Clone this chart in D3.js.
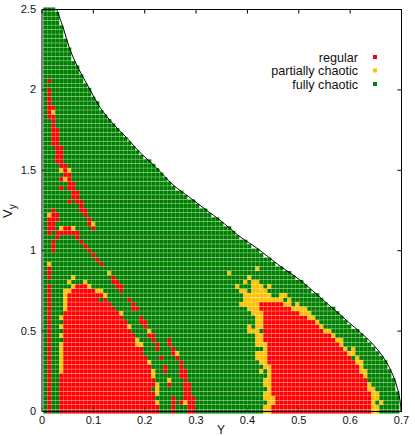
<!DOCTYPE html>
<html>
<head>
<meta charset="utf-8">
<script src="https://cdn.jsdelivr.net/npm/d3@7"></script>
<style>
  html, body { margin: 0; padding: 0; background: #fff; }
  svg { display: block; }
  text { font-family: "Liberation Sans", Arial, sans-serif; fill: #111; }
</style>
</head>
<body>
<div id="chart"></div>
<script>
// Tick labels
const yTicks = [0, 0.1, 0.2, 0.3, 0.4, 0.5, 0.6, 0.7];
const vyTicks = [0, 0.5, 1, 1.5, 2, 2.5];

// Legend
const classNames = ["regular", "partially chaotic", "fully chaotic"];

// Grid spacing of the scan
const yFirst = 0.0064, yStep = 0.00779, vyStep = 2.5 / 90;

// Last scanned column in each row, row 0 is Vy = 0
const rowLastCol = [
  88, 88, 88, 88, 88, 87, 87, 87, 86, 86, 85, 85, 84, 83, 82, 81, 80, 79, 78, 76,
  75, 74, 73, 72, 70, 69, 68, 66, 65, 64, 62, 61, 59, 57, 56, 54, 53, 51, 50, 48,
  47, 46, 44, 43, 41, 40, 38, 37, 35, 34, 32, 31, 30, 29, 28, 27, 26, 24, 23, 22,
  21, 20, 19, 18, 17, 16, 15, 14, 13, 13, 12, 11, 11, 10, 9, 9, 8, 8, 7, 6,
  6, 6, 5, 5, 4, 4, 4, 3, 3, 3, 2
];

// Regular cells per row as [first column, last column] runs
const regularRuns = [
  [[1,1],[4,28],[32,32],[36,37],[57,81]],
  [[1,1],[4,28],[32,32],[36,37],[57,81]],
  [[1,1],[4,27],[32,32],[34,34],[36,37],[58,81]],
  [[1,1],[4,27],[32,32],[35,37],[58,81]],
  [[1,1],[4,27],[35,36],[57,81]],
  [[1,1],[4,26],[35,36],[57,80]],
  [[1,1],[4,27],[31,31],[35,36],[57,80]],
  [[1,1],[4,27],[35,35],[57,80]],
  [[1,1],[4,26],[34,35],[57,79]],
  [[1,1],[5,26],[30,30],[34,35],[57,78]],
  [[1,1],[5,26],[30,30],[34,34],[57,78]],
  [[1,1],[5,25],[34,34],[56,77]],
  [[1,1],[5,25],[29,29],[33,33],[56,76]],
  [[1,1],[5,24],[32,32],[56,75]],
  [[1,1],[5,24],[28,28],[32,32],[56,74]],
  [[1,1],[5,22],[28,28],[31,31],[56,73]],
  [[1,1],[5,22],[27,27],[31,31],[55,72]],
  [[1,1],[5,22],[26,27],[55,71]],
  [[1,1],[5,21],[55,69]],
  [[1,1],[5,20],[25,25],[55,68]],
  [[1,1],[5,20],[24,25],[55,67]],
  [[1,1],[5,19],[24,24],[55,65]],
  [[1,1],[5,18],[55,63]],
  [[1,1],[6,17],[22,23],[54,61]],
  [[1,1],[6,16],[22,22],[54,59]],
  [[1,1],[6,13],[15,15],[21,21]],
  [[1,1],[6,14]],
  [[1,1],[7,12],[19,19]],
  [[1,1],[8,10],[18,19]],
  [[17,18]],
  [[1,1],[17,17]],
  [[1,1]],
  [[1,1]],
  [[14,14]],
  [[13,13]],
  [[12,12]],
  [[2,2],[11,11]],
  [[2,2],[10,10]],
  [[2,2],[9,9]],
  [[3,3],[8,8]],
  [[1,1],[3,8]],
  [[1,2],[5,6],[12,12]],
  [[1,2],[11,11]],
  [[1,3],[11,11]],
  [[2,3],[10,10]],
  [[2,2],[9,10]],
  [[9,9]],
  [[6,6],[8,9]],
  [[7,8]],
  [[7,8]],
  [[4,4],[6,7]],
  [[6,7]],
  [[4,4],[6,6]],
  [[5,6]],
  [[5,5]],
  [[4,5]],
  [[3,4]],
  [[3,4]],
  [[3,4]],
  [[3,4]],
  [[2,3]],
  [[2,3]],
  [[2,3]],
  [[2,3]],
  [[2,2]],
  [[2,2]],
  [[1,2]],
  [[1,1]],
  [[1,2]],
  [[1,1]],
  [[1,1]],
  [[1,1]],
  [[1,1]],
  [],
  [[1,1]]
];

// Partially chaotic cells per row, as column numbers
const partialCols = [
  [55,56,82,83],
  [55,56,82,83],
  [28,35,56,57,82,84],
  [55,56,57,82,83],
  [28,55,56,82,83],
  [28,56,81,82],
  [28,55,56,81],
  [31,55,56],
  [27,56,80],
  [4,27,54,56,79,80],
  [4,55,56,79],
  [4,26,54,55,78,79],
  [4,53,54,55,78],
  [4,33,53,54,55,76,77],
  [4,55,75,77],
  [4,23,24,53,54,55,74],
  [23,53,54,73,74],
  [4,53,54,72],
  [26,51,52,53,70,71],
  [4,21,51,53,54,69],
  [53,54,68],
  [4,53,54,66,67],
  [19,52,53,54,64,65,66],
  [5,51,52,53,62,63,64,65],
  [5,49,50,51,52,53,60,61,63],
  [5,50,51,52,53,54,55,56,57,58,59,61],
  [5,15,50,51,52,53,54,55,56,59,60],
  [5,6,13,14,49,50,52,53,54,55],
  [7,11,48,52,53,54,56],
  [6,10,50,52,53],
  [7,51],
  [16,46],
  [53],
  [1],
  [], [], [], [], [], [],
  [],
  [4,7],
  [12],
  [],
  [1],
  [], [], [], [], [], [], [],
  [5],
  [],
  [4,6],
  [], [], [], [], [], [], [], [], [], [], [], [],
  [2]
];

// Outer edge of the allowed region
const edgeY = [0.0286, 0.0415, 0.0545, 0.0707, 0.092, 0.113, 0.138, 0.1655, 0.191, 0.223, 0.255, 0.288, 0.321,
  0.3465, 0.3855, 0.418, 0.4634, 0.502, 0.551, 0.596, 0.642, 0.668, 0.687, 0.697, 0.699];
const edgeVy = [2.5, 2.385, 2.25, 2.135, 2.01, 1.89, 1.79, 1.7, 1.61, 1.515, 1.41, 1.33, 1.25,
  1.19, 1.087, 1.017, 0.905, 0.818, 0.683, 0.558, 0.426, 0.32, 0.196, 0.0715, 0];

const WIDTH = 415, HEIGHT = 436;
const LEFT = 42, RIGHT = 401.5, TOP = 9.5, BOTTOM = 411.5;

const color = d3.scaleOrdinal().domain(classNames).range(["#ff0000", "#ffc000", "#008000"]);
const x = d3.scaleLinear().domain([0, 0.7]).range([LEFT, RIGHT]);
const y = d3.scaleLinear().domain([0, 2.5]).range([BOTTOM, TOP]);

const svg = d3.select("#chart").append("svg")
  .attr("width", WIDTH)
  .attr("height", HEIGHT);

// Y ticks sit under the cells
svg.append("g")
  .attr("transform", `translate(${LEFT},0)`)
  .call(d3.axisLeft(y).tickValues(vyTicks).tickFormat(d => d).tickSizeInner(-4).tickSizeOuter(0).tickPadding(6).offset(0))
  .call(g => g.selectAll("text").style("font-size", "11px"));

// Work out the class of every cell
const cells = [];
rowLastCol.forEach((last, row) => {
  const runs = regularRuns[row] || [];
  const partial = partialCols[row] || [];
  d3.range(last + 1).forEach(col => {
    let cls = "fully chaotic";
    if (runs.some(r => col >= r[0] && col <= r[1])) cls = "regular";
    if (partial.includes(col)) cls = "partially chaotic";
    cells.push({ Y: yFirst + col * yStep, Vy: row * vyStep, cls });
  });
});

const cellW = 3.96, cellH = 4.1;

svg.append("g").selectAll("rect")
  .data(cells)
  .join("rect")
  .attr("x", d => x(d.Y) - cellW / 2)
  .attr("y", d => y(d.Vy) - cellH / 2)
  .attr("width", cellW)
  .attr("height", cellH)
  .attr("fill", d => color(d.cls));

// Edge of the region
const edgeLine = d3.line()
  .x((d, i) => x(edgeY[i]))
  .y(d => y(d))
  .curve(d3.curveCatmullRom);

svg.append("path")
  .datum(edgeVy)
  .attr("d", edgeLine)
  .attr("fill", "none")
  .attr("stroke", "#000")
  .attr("stroke-width", 1);

// Frame and the other axes
svg.append("g")
  .attr("transform", `translate(0,${BOTTOM})`)
  .call(d3.axisBottom(x).tickValues(yTicks).tickFormat(d => d).tickSizeInner(-4).tickSizeOuter(0).tickPadding(5).offset(0))
  .call(g => g.selectAll("text").style("font-size", "11px"))
  .call(g => g.selectAll(".tick line").attr("stroke-opacity", 0.35));

svg.append("g")
  .attr("transform", `translate(0,${TOP})`)
  .call(d3.axisTop(x).tickValues(yTicks).tickFormat("").tickSizeInner(-4).tickSizeOuter(0).offset(0));

svg.append("g")
  .attr("transform", `translate(${RIGHT},0)`)
  .call(d3.axisRight(y).tickValues(vyTicks).tickFormat("").tickSizeInner(-4).tickSizeOuter(0).offset(0));

// Axis titles
svg.append("text")
  .attr("x", 221)
  .attr("y", 433.5)
  .attr("text-anchor", "middle")
  .style("font-size", "12px")
  .text("Y");

const vyLabel = svg.append("text")
  .attr("transform", "translate(12,218) rotate(-90)")
  .style("font-size", "13px");
vyLabel.append("tspan").text("V");
vyLabel.append("tspan").attr("dy", 4).style("font-size", "10px").text("y");

// Legend
const legend = svg.append("g").selectAll("g")
  .data(classNames)
  .join("g")
  .attr("transform", (d, i) => `translate(0,${57 + i * 13.5})`);

legend.append("text")
  .attr("x", 358)
  .attr("y", 4.5)
  .attr("text-anchor", "end")
  .style("font-size", "12.6px")
  .text(d => d);

legend.append("rect")
  .attr("x", 373)
  .attr("y", -2)
  .attr("width", 4)
  .attr("height", 4)
  .attr("fill", d => color(d));
</script>
</body>
</html>
